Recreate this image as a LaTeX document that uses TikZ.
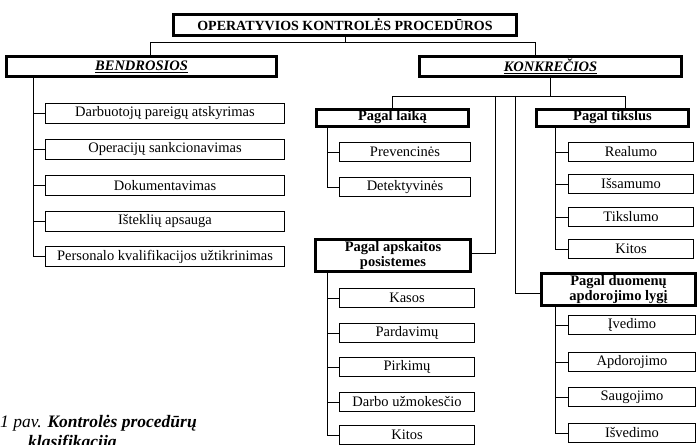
\documentclass[tikz,border=0pt]{standalone}
\usepackage{fontspec}
\setmainfont{Liberation Serif}
\begin{document}
\begin{tikzpicture}[x=1bp,y=-1bp,
  hdr/.style={draw=black, line width=3bp, fill=white, inner sep=0pt, align=center,
    font=\fontsize{14.5bp}{13bp}\selectfont},
  itm/.style={draw=black, line width=0.9bp, fill=white, inner sep=0pt, minimum height=19.5bp,
    font=\fontsize{14.5bp}{14bp}\selectfont},
  conn/.style={draw=black, line width=0.9bp},
  captxt/.style={anchor=base west, inner sep=0pt, font=\fontsize{17.5bp}{18bp}\selectfont}]
\useasboundingbox (0,0) rectangle (699,445);

% headers
\node[hdr, minimum width=343bp, minimum height=21bp, font=\fontsize{14bp}{13bp}\selectfont] (top) at (345,25)
  {\textbf{OPERATYVIOS KONTROLĖS PROCEDŪROS}};
\node[hdr, minimum width=270bp, minimum height=20bp] (bend) at (141.5,66.5)
  {\underline{\textbf{\textit{BENDROSIOS}}}};
\node[hdr, minimum width=262bp, minimum height=20bp] (konk) at (550.5,66.5)
  {\underline{\textbf{\textit{KONKREČIOS}}}};
\node[hdr, minimum width=152bp, minimum height=17bp] (laik) at (392.5,118)
  {\underline{\textbf{Pagal laiką}}};
\node[hdr, minimum width=152bp, minimum height=17bp] (tiks) at (612.5,118)
  {\underline{\textbf{Pagal tikslus}}};
\node[hdr, minimum width=155bp, minimum height=32bp] (apsk) at (393,255.5)
  {\textbf{Pagal apskaitos}\\\textbf{posistemes}};
\node[hdr, minimum width=154bp, minimum height=32bp] (duom) at (618.5,289.5)
  {\textbf{Pagal duomenų}\\\textbf{apdorojimo lygį}};

% BENDROSIOS items
\node[itm, minimum width=239bp] (b1) at (165,113.5) {Darbuotojų pareigų atskyrimas};
\node[itm, minimum width=239bp] (b2) at (165,149.5) {Operacijų sankcionavimas};
\node[itm, minimum width=239bp] (b3) at (165,185.5) {Dokumentavimas};
\node[itm, minimum width=239bp] (b4) at (165,221.5) {Išteklių apsauga};
\node[itm, minimum width=239bp] (b5) at (165,256.5) {Personalo kvalifikacijos užtikrinimas};

% Pagal laika items
\node[itm, minimum width=131bp] (l1) at (405,152) {Prevencinės};
\node[itm, minimum width=131bp] (l2) at (405,187) {Detektyvinės};

% Pagal apskaitos items
\node[itm, minimum width=135bp] (a1) at (407,298) {Kasos};
\node[itm, minimum width=135bp] (a2) at (407,333) {Pardavimų};
\node[itm, minimum width=135bp] (a3) at (407,367) {Pirkimų};
\node[itm, minimum width=135bp] (a4) at (407,402) {Darbo užmokesčio};
\node[itm, minimum width=135bp] (a5) at (407,435) {Kitos};

% Pagal tikslus items
\node[itm, minimum width=125bp] (t1) at (631,152) {Realumo};
\node[itm, minimum width=125bp] (t2) at (631,184) {Išsamumo};
\node[itm, minimum width=125bp] (t3) at (631,217) {Tikslumo};
\node[itm, minimum width=125bp] (t4) at (631,249) {Kitos};

% Pagal duomenu items
\node[itm, minimum width=127bp] (d1) at (632,325) {Įvedimo};
\node[itm, minimum width=127bp] (d2) at (632,362) {Apdorojimo};
\node[itm, minimum width=127bp] (d3) at (632,397) {Saugojimo};
\node[itm, minimum width=127bp] (d4) at (632,433) {Išvedimo};

% connectors: top level
\draw[conn] (top.south) -- ++(0,5) coordinate (tj) -| ([xshift=8.5bp]bend.north);
\draw[conn] (tj) -| ([xshift=-15.5bp]konk.north);

% KONKRECIOS
\draw[conn] (konk.south) -- ++(0,18) coordinate (kj) -| (laik.north);
\draw[conn] (kj) -| ([xshift=12.5bp]tiks.north);
\coordinate (k1) at (495,96);
\coordinate (k2) at (515,96);
\draw[conn] (k1) |- ([yshift=2.5bp]apsk.east);
\draw[conn] (k2) |- ([yshift=-3.5bp]duom.west);

% BENDROSIOS trunk
\coordinate (bl) at ([xshift=-108.5bp]bend.south);
\foreach \n in {b1,b2,b3,b4,b5} {\draw[conn] (bl) |- (\n.west);}

% Pagal laika trunk
\coordinate (ll) at ([xshift=-65.5bp]laik.south);
\foreach \n in {l1,l2} {\draw[conn] (ll) |- (\n.west);}

% Pagal apskaitos trunk
\coordinate (al) at ([xshift=-66bp]apsk.south);
\foreach \n in {a1,a2,a3,a4,a5} {\draw[conn] (al) |- (\n.west);}

% Pagal tikslus trunk
\coordinate (tl) at ([xshift=-57.5bp]tiks.south);
\foreach \n in {t1,t2,t3,t4} {\draw[conn] (tl) |- (\n.west);}

% Pagal duomenu trunk
\coordinate (dl) at ([xshift=-63.5bp]duom.south);
\foreach \n in {d1,d2,d3,d4} {\draw[conn] (dl) |- (\n.west);}

% caption
\node[captxt] (cap1) at (0,427) {\textit{1 pav.} \textbf{\textit{Kontrolės procedūrų}}};
\node[captxt] (cap2) at (28,447) {\textbf{\textit{klasifikacija}}};
\end{tikzpicture}
\end{document}
